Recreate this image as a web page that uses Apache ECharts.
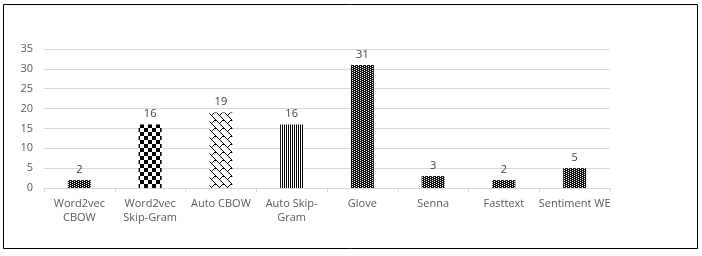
<!DOCTYPE html>
<html>
<head>
<meta charset="utf-8">
<style>
  html, body { margin: 0; padding: 0; background: #fff; }
  #chart { width: 702px; height: 256px; }
</style>
<script src="https://cdn.jsdelivr.net/npm/echarts@6/dist/echarts.min.js"></script>
</head>
<body>
<div id="chart"></div>
<script>
const categories = ["Word2vec\nCBOW", "Word2vec\nSkip-Gram", "Auto CBOW", "Auto Skip-\nGram", "Glove", "Senna", "Fasttext", "Sentiment WE"];
const values = [2, 16, 19, 16, 31, 3, 2, 5];
const yTicks = [0, 5, 10, 15, 20, 25, 30, 35];
const patternKinds = ["dots", "checker", "shingle", "vlines", "dots", "dots", "dots", "dots"];

function bitmapPattern(rows, on, off) {
  const h = rows.length, w = rows[0].length;
  const c = document.createElement('canvas');
  c.width = w; c.height = h;
  const ctx = c.getContext('2d');
  ctx.fillStyle = off; ctx.fillRect(0, 0, w, h);
  ctx.fillStyle = on;
  for (let y = 0; y < h; y++)
    for (let x = 0; x < w; x++)
      if (rows[y][x] === '1') ctx.fillRect(x, y, 1, 1);
  return { image: c, repeat: 'repeat' };
}

function makePattern(kind) {
  if (kind === 'dots') return bitmapPattern(["0111", "1101"], '#111', '#fff');
  if (kind === 'checker') return bitmapPattern(["11110000", "11110000", "11110000", "11110000", "00001111", "00001111", "00001111", "00001111"], '#000', '#fff');
  if (kind === 'vlines') return bitmapPattern(["10", "10"], '#000', '#fff');
  if (kind === 'shingle') return bitmapPattern([
    "10000011",
    "01000100",
    "00101000",
    "00010000",
    "00001000",
    "00000100",
    "00000010",
    "00000001"], '#000', '#fff');
}

const chart = echarts.init(document.getElementById('chart'), null, { renderer: 'canvas' });
const font = '"Open Sans", "Noto Sans", sans-serif';

chart.setOption({
  backgroundColor: '#fff',
  animation: false,
  textStyle: { fontFamily: font },
  graphic: [{
    type: 'rect',
    shape: { x: 3.5, y: 4.5, width: 694, height: 244 },
    style: { fill: 'none', stroke: '#000', lineWidth: 1 },
    z: 100
  }],
  grid: { left: 44, right: 92, top: 49, bottom: 68 },
  xAxis: {
    type: 'category',
    data: categories,
    axisLine: { lineStyle: { color: '#d9d9d9', width: 1 } },
    axisTick: { show: true, length: 4, lineStyle: { color: '#d9d9d9' } },
    axisLabel: { interval: 0, color: '#595959', fontSize: 11, lineHeight: 14, margin: 9, fontFamily: font }
  },
  yAxis: {
    type: 'value',
    min: yTicks[0],
    max: yTicks[yTicks.length - 1],
    interval: 5,
    axisLine: { show: false },
    axisTick: { show: false },
    splitLine: { lineStyle: { color: '#d9d9d9', width: 1 } },
    axisLabel: { color: '#595959', fontSize: 11, margin: 11, fontFamily: font }
  },
  series: [{
    type: 'bar',
    barWidth: 23,
    data: values.map((v, i) => ({ value: v, itemStyle: { color: makePattern(patternKinds[i]) } })),
    label: { show: true, position: 'top', distance: 5, color: '#404040', fontSize: 11, fontFamily: font }
  }]
});
</script>
</body>
</html>
